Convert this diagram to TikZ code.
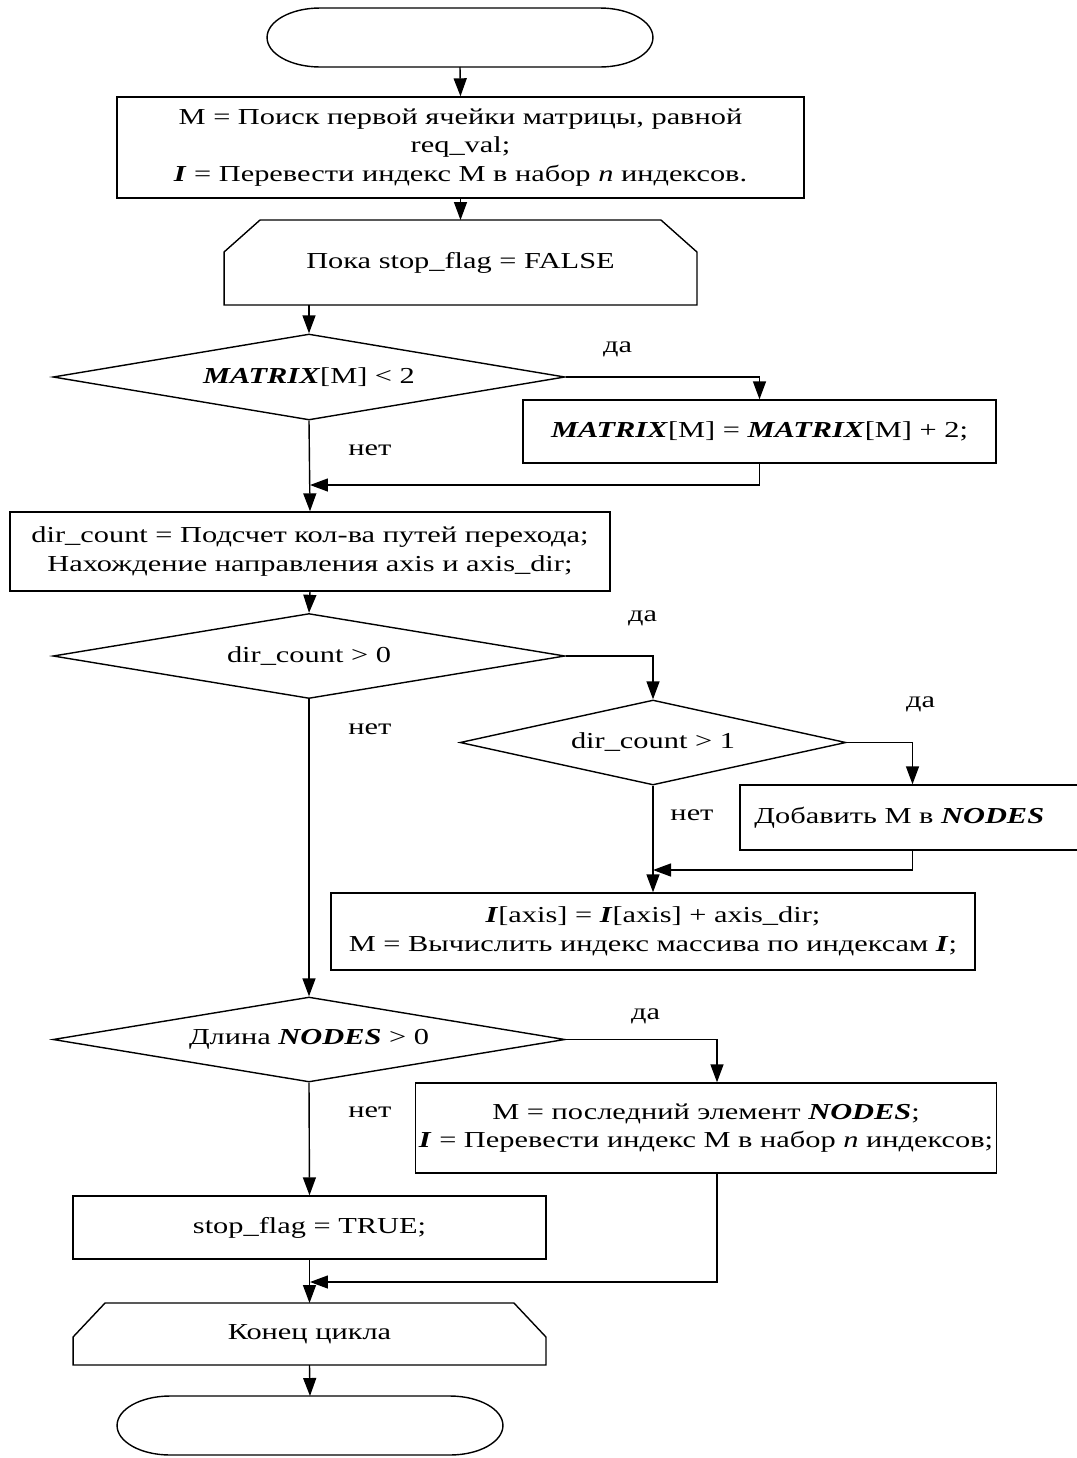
\documentclass[tikz,border=0pt]{standalone}
\usepackage{fontspec}
\setmainfont{Liberation Serif}[FakeStretch=1.33]
\usetikzlibrary{arrows.meta,positioning,calc,shapes.geometric}

% loop limit box with the two upper corners cut off
\newcommand{\drawlimit}[3]{%
  \draw (#1.south west) -- ($(#1.north west)+(0,#3)$) -- ($(#1.north west)+(#2,0)$)
    -- ($(#1.north east)+(-#2,0)$) -- ($(#1.north east)+(0,#3)$) -- (#1.south east) -- cycle;}
% terminal: straight top and bottom, elliptic ends
\newcommand{\drawterm}[1]{%
  \draw ($(#1.north west)+(53,0)$) -- ($(#1.north east)+(-53,0)$)
    arc[start angle=90,end angle=-90,x radius=1.06cm,y radius=0.59cm]
    -- ($(#1.south west)+(53,0)$)
    arc[start angle=270,end angle=90,x radius=1.06cm,y radius=0.59cm] -- cycle;}

\begin{document}
\begin{tikzpicture}[x=0.02cm,y=-0.02cm,line width=0.8pt,>={Triangle[length=3.6mm,width=2.6mm]},
  every node/.style={align=center,font=\fontsize{13pt}{16.2pt}\selectfont},
  procbox/.style={draw,rectangle,inner sep=2pt},
  decision/.style={draw,diamond,aspect=6,inner sep=0pt},
  limitbox/.style={rectangle,inner sep=0pt,outer sep=0pt,minimum width=9.46cm},
  termbox/.style={rectangle,inner sep=0pt,outer sep=0pt,minimum width=7.72cm,minimum height=1.18cm},
  lbl/.style={inner sep=0pt}]
  \useasboundingbox (0,0) rectangle (1077,1458);

  \node[termbox] (start) at (460,37.5) {};
  \drawterm{start}
  \node[procbox,minimum width=13.74cm,minimum height=2.02cm] (init) at (460.5,147.5)
    {M = Поиск первой ячейки матрицы, равной\\req\_val;\\\textbf{\textit{I}} = Перевести индекс M в набор \textit{n} индексов.};
  \node[limitbox,minimum height=1.7cm] (loop) at (460.5,262.5) {Пока stop\_flag = FALSE};
  \drawlimit{loop}{36}{32}

  \node[decision,minimum width=10.24cm,minimum height=1.72cm] (dia1) at (309,377)
    {\textbf{\textit{MATRIX}}[M] < 2};
  \node[procbox,minimum width=9.46cm,minimum height=1.26cm] (incr) at (759.5,431.5)
    {\textbf{\textit{MATRIX}}[M] = \textbf{\textit{MATRIX}}[M] + 2;};
  \node[procbox,minimum width=12cm,minimum height=1.58cm] (count) at (310,551.5)
    {dir\_count = Подсчет кол-ва путей перехода;\\Нахождение направления axis и axis\_dir;};

  \node[decision,minimum width=10.24cm,minimum height=1.7cm] (dia2) at (309,656) {dir\_count > 0};
  \node[decision,aspect=4.5,minimum width=7.72cm,minimum height=1.7cm] (dia3) at (653,742.5) {dir\_count > 1};
  \node[procbox,minimum width=6.9cm,minimum height=1.3cm] (addnode) at (912.5,817.5)
    {Добавить M в \textbf{\textit{NODES}}\hspace*{15pt}};
  \node[procbox,minimum width=12.88cm,minimum height=1.54cm] (step) at (653,931.5)
    {\textbf{\textit{I}}[axis] = \textbf{\textit{I}}[axis] + axis\_dir;\\M = Вычислить индекс массива по индексам \textbf{\textit{I}};};

  \node[decision,minimum width=10.24cm,minimum height=1.7cm] (dia4) at (309,1039.5)
    {Длина \textbf{\textit{NODES}} > 0};
  \node[procbox,minimum width=11.6cm,minimum height=1.8cm] (pop) at (706,1128)
    {M = последний элемент \textbf{\textit{NODES}};\\\textbf{\textit{I}} = Перевести индекс M в набор \textit{n} индексов;};
  \node[procbox,minimum width=9.46cm,minimum height=1.26cm] (stop) at (309.5,1227.5) {stop\_flag = TRUE;};
  \node[limitbox,minimum height=1.24cm] (lend) at (309.5,1334) {Конец цикла};
  \drawlimit{lend}{32}{34}
  \node[termbox] (finish) at (310,1425.5) {};
  \drawterm{finish}

  % labels
  \node[lbl] (yes1) at ($(dia1.east)+(52,-28)$) {да};
  \node[lbl] (no1) at ($(dia1.south)+(61,30)$) {нет};
  \node[lbl] (yes2) at ($(dia2.east)+(77,-38)$) {да};
  \node[lbl] (no2) at ($(dia2.south)+(61,30)$) {нет};
  \node[lbl] (yes3) at ($(dia3.east)+(74,-38)$) {да};
  \node[lbl] (no3) at ($(dia3.south)+(39,30)$) {нет};
  \node[lbl] (yes4) at ($(dia4.east)+(80,-23)$) {да};
  \node[lbl] (no4) at ($(dia4.south)+(61,30)$) {нет};

  % merge points
  \coordinate (m1) at (310,485);
  \coordinate (m2) at (653,870);
  \coordinate (m3) at (310,1282);

  % connectors
  \draw[->] (start.south) -- (init.north);
  \draw[->] (init.south) -- (loop.north);
  \draw[->] (loop.south -| dia1.north) -- (dia1.north);
  \draw[->] (dia1.east) -| (incr.north);
  \draw[->] (incr.south) |- (m1);
  \draw[->] (dia1.south) -- (count.north);
  \draw[->] (count.south) -- (dia2.north);
  \draw[->] (dia2.east) -| (dia3.north);
  \draw[->] (dia3.east) -| (addnode.north);
  \draw[->] (addnode.south) |- (m2);
  \draw[->] (dia3.south) -- (step.north);
  \draw[->] (dia2.south) -- (dia4.north);
  \draw[->] (dia4.east) -| ($(pop.north)+(11,0)$);
  \draw[->] ($(pop.south)+(11,0)$) |- (m3);
  \draw[->] (dia4.south) -- (stop.north);
  \draw[->] (stop.south) -- (lend.north);
  \draw[->] (lend.south) -- (finish.north);
\end{tikzpicture}
\end{document}
